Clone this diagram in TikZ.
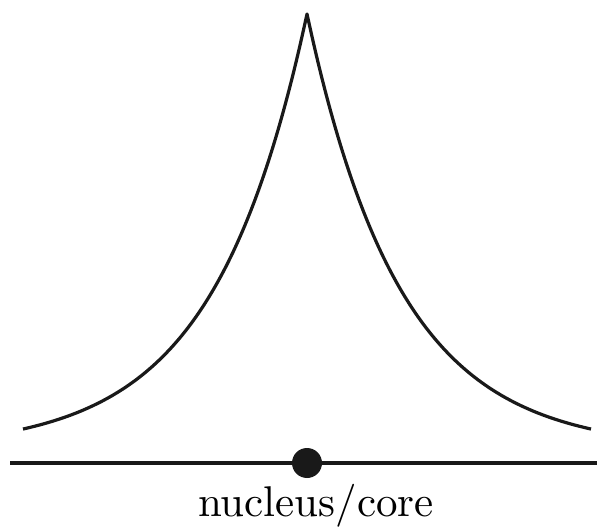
\documentclass[tikz,border=0pt]{standalone}
\begin{document}
\begin{tikzpicture}[x=1pt,y=-1pt,
  curve/.style={line width=3.2pt,line join=round,color=black!90},
  axis/.style={line width=3.2pt,color=black!90},
  dot/.style={circle,fill=black!90,minimum size=30pt,inner sep=0pt},
  lbl/.style={anchor=base,inner sep=0pt,font=\normalsize,scale=4.3}]
\useasboundingbox (0,0) rectangle (597,529);
\draw[curve] plot[domain=-284:0,samples=120] ({307+\x},{450-436*exp(0.01068*\x)})
  -- plot[domain=0:284,samples=120] ({307+\x},{450-436*exp(-0.01068*\x)});
\coordinate (L) at (10,463);
\coordinate (R) at (597,463);
\draw[axis] (L) -- (R);
\node[dot] (nuc) at (307,463) {};
\node[lbl] (lab) at (316,516) {nucleus/core};
\end{tikzpicture}
\end{document}
